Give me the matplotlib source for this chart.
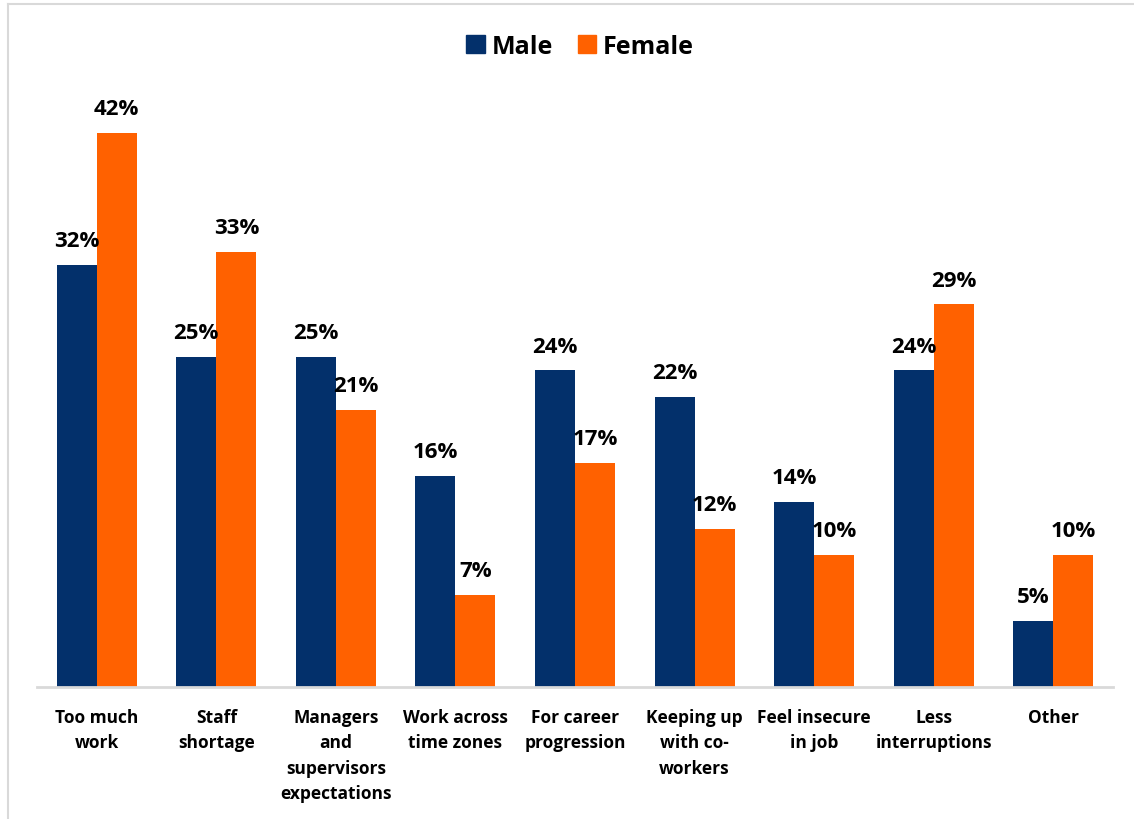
import matplotlib
matplotlib.use("Agg")
import matplotlib.pyplot as plt
import numpy as np
from matplotlib.lines import Line2D
from matplotlib.patches import Patch

plt.rcParams['font.family'] = ['Open Sans', 'DejaVu Sans']

categories = ["Too much\nwork", "Staff\nshortage", "Managers\nand\nsupervisors\nexpectations",
              "Work across\ntime zones", "For career\nprogression", "Keeping up\nwith co-\nworkers",
              "Feel insecure\nin job", "Less\ninterruptions", "Other"]
male = [32, 25, 25, 16, 24, 22, 14, 24, 5]
female = [42, 33, 21, 7, 17, 12, 10, 29, 10]
series_names = ["Male", "Female"]

navy = "#03306B"
orange = "#FF6100"

W, H = 1134, 820
fig = plt.figure(figsize=(W / 100, H / 100), dpi=100)

# chart frame: top and left edges
frame = "#D9D9D9"
fig.lines.append(Line2D([8 / W, 1], [1 - 5 / H, 1 - 5 / H], transform=fig.transFigure,
                        color=frame, linewidth=1.5))
fig.lines.append(Line2D([8 / W, 8 / W], [0, 1 - 5 / H], transform=fig.transFigure,
                        color=frame, linewidth=1.5))

ax_left, ax_right, ax_base, ax_top = 37, 1113, 688, 80
ax = fig.add_axes([ax_left / W, (H - ax_base) / H, (ax_right - ax_left) / W, (ax_base - ax_top) / H])

x = np.arange(len(categories))
bw = 0.335
b1 = ax.bar(x - bw / 2, male, bw, color=navy, label=series_names[0])
b2 = ax.bar(x + bw / 2, female, bw, color=orange, label=series_names[1])

ymax = 42 * (ax_base - ax_top) / (ax_base - 134)
ax.set_ylim(0, ymax)
ax.set_xlim(-0.5, len(categories) - 0.5)

for bars, vals in ((b1, male), (b2, female)):
    for rect, v in zip(bars, vals):
        ax.annotate(f"{v}%", (rect.get_x() + rect.get_width() / 2, v),
                    xytext=(0, 10), textcoords="offset points",
                    ha="center", va="bottom", fontsize=16, fontweight="bold", color="black")

for s in ("top", "right", "left"):
    ax.spines[s].set_visible(False)
ax.spines["bottom"].set_color("#D9D9D9")
ax.spines["bottom"].set_linewidth(2)
ax.set_yticks([])
ax.set_xticks(x)
ax.set_xticklabels(categories, fontsize=12.5, fontweight="bold", linespacing=1.53)
ax.tick_params(axis="x", length=0, pad=15)

handles = [Patch(color=navy), Patch(color=orange)]
fig.legend(handles, series_names, loc="center", bbox_to_anchor=(580 / W, 1 - 47 / H),
           ncol=2, frameon=False, prop={"size": 18, "weight": "bold"},
           handlelength=0.75, handleheight=0.75, handletextpad=0.25, columnspacing=1.0)

fig.savefig("out.png", dpi=100)
